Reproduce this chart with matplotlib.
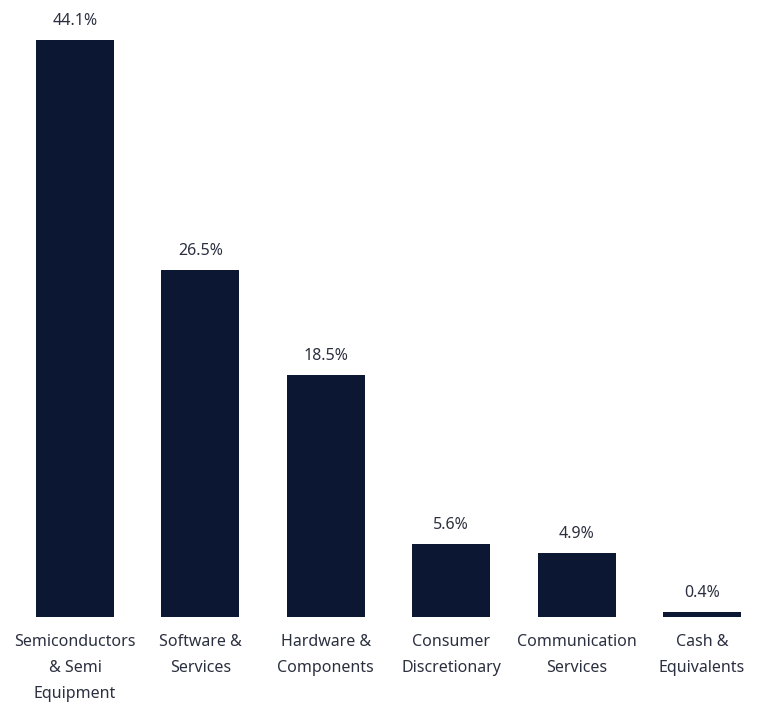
import matplotlib
matplotlib.use("Agg")
import matplotlib.pyplot as plt

categories = [
    "Semiconductors\n& Semi\nEquipment",
    "Software &\nServices",
    "Hardware &\nComponents",
    "Consumer\nDiscretionary",
    "Communication\nServices",
    "Cash &\nEquivalents",
]
weights = [44.1, 26.5, 18.5, 5.6, 4.9, 0.4]

BAR_COLOR = "#0b1733"
TEXT_COLOR = "#2b3040"
plt.rcParams["font.family"] = ["Noto Sans", "DejaVu Sans"]

W, H, DPI = 760, 704, 100
fig = plt.figure(figsize=(W / DPI, H / DPI), dpi=DPI)

# axes placed in pixel terms: baseline at 87 px from bottom
x0, x1 = -0.5, 5.4
left_px, right_px = 12.3, 752.2
bottom_px = 87
ymax = 47
top_px = bottom_px + ymax * 13.08
ax = fig.add_axes([left_px / W, bottom_px / H, (right_px - left_px) / W, (top_px - bottom_px) / H])

xs = list(range(len(categories)))
ax.bar(xs, weights, width=0.622, color=BAR_COLOR)
ax.set_xlim(x0, x1)
ax.set_ylim(0, ymax)
ax.axis("off")

for x, v in zip(xs, weights):
    ax.annotate(f"{v:.1f}%", (x, v), xytext=(0, 19), textcoords="offset pixels",
                ha="center", va="center", fontsize=11.5, color=TEXT_COLOR)

for x, lab in zip(xs, categories):
    ax.annotate(lab, (x, 0), xytext=(0, -17), textcoords="offset pixels",
                ha="center", va="top", fontsize=11.5, color=TEXT_COLOR, linespacing=1.85)

fig.savefig("out.png", dpi=DPI, facecolor="white")
